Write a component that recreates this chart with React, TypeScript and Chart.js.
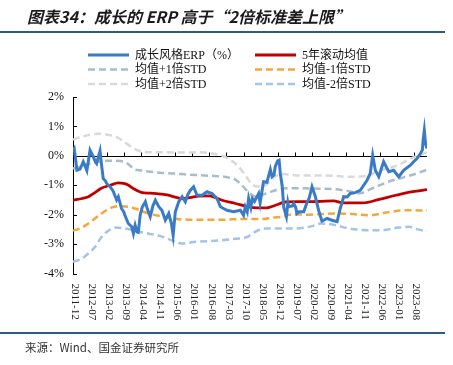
import React, { useEffect, useRef } from 'react';
import { Chart, registerables } from 'chart.js';

Chart.register(...registerables);

// ---------- data ----------
const titleText = '图表34：成长的 ERP 高于“2倍标准差上限”';
const sourceText = '来源：Wind、国金证券研究所';

const xTickLabels = ['2011-12', '2012-07', '2013-02', '2013-09', '2014-04', '2014-11', '2015-06', '2016-01', '2016-08', '2017-03', '2017-10', '2018-05', '2018-12', '2019-07', '2020-02', '2020-09', '2021-04', '2021-11', '2022-06', '2023-01', '2023-08'];
const monthsPerTick = 7;
const yMin = -4;
const yMax = 2;
const xMaxMonth = 145.3;

const seriesNames = ['成长风格ERP（%）', '5年滚动均值', '均值+1倍STD', '均值-1倍STD', '均值+2倍STD', '均值-2倍STD'];

// months since 2011-12
const erpMonths = [0, 0.5, 1.1, 1.6, 2.9, 3.7, 4.2, 5.0, 5.7, 7.0, 8.3, 9.2, 9.7, 11.1, 11.7, 12.4, 13.3, 13.8, 15.2, 16.5, 17.9, 18.6, 19.9, 20.8, 21.3, 22.7, 24.1, 24.8, 25.5, 26.3, 26.8, 27.6, 28.4, 29.7, 30.5, 31.7, 32.8, 33.8, 35.2, 36.5, 37.9, 39.3, 40.4, 41.1, 42.0, 43.4, 44.8, 46.1, 47.2, 48.2, 49.5, 50.9, 53.0, 55.0, 57.1, 59.1, 60.5, 62.0, 63.2, 65.9, 68.7, 70.0, 70.7, 71.5, 72.1, 73.0, 73.6, 74.5, 76.2, 76.8, 78.2, 79.6, 81.0, 81.7, 82.5, 83.0, 84.0, 84.6, 85.1, 85.9, 86.5, 87.6, 88.2, 88.5, 90.0, 90.6, 91.4, 91.9, 92.8, 94.7, 96.0, 96.9, 98.1, 99.5, 100.8, 102.2, 104.3, 106.3, 108.4, 109.7, 111.1, 112.5, 113.8, 115.8, 117.9, 120.7, 122.0, 123.0, 124.1, 125.5, 127.5, 129.6, 131.6, 133.7, 135.7, 138.5, 139.8, 141.2, 142.6, 143.4, 143.7, 144.2, 144.7, 145.3];
const erpValues = [0.19, 0.25, -0.15, -0.49, -0.45, -0.3, -0.2, -0.35, -0.5, 0.19, -0.03, -0.2, -0.26, 0.17, -0.3, -0.77, -0.85, -0.94, -1.05, -1.2, -1.5, -1.39, -1.79, -1.9, -2.02, -2.3, -2.41, -2.64, -2.36, -2.59, -2.6, -2.0, -1.75, -1.56, -1.8, -2.07, -1.7, -1.51, -1.73, -1.85, -2.19, -1.96, -2.3, -2.7, -1.9, -1.56, -1.39, -1.56, -1.3, -1.17, -1.05, -1.34, -1.34, -1.22, -1.28, -1.45, -1.73, -1.8, -1.85, -1.9, -1.85, -2.02, -1.73, -1.9, -1.45, -1.75, -1.45, -1.55, -1.28, -1.6, -0.88, -0.9, -0.46, -0.71, -0.65, -0.37, -0.17, -0.15, -0.6, -1.05, -1.75, -2.07, -1.6, -1.73, -1.7, -1.62, -1.75, -1.96, -1.9, -1.9, -1.6, -1.45, -1.05, -1.39, -1.85, -2.22, -2.13, -2.19, -2.24, -1.79, -1.39, -1.4, -1.28, -1.25, -1.17, -0.83, -0.6, 0.02, -0.49, -0.71, -0.2, -0.54, -0.49, -0.71, -0.49, -0.32, -0.2, -0.09, 0.08, 0.2, 0.53, 0.87, 0.42, 0.25];

const ma5Months = [0, 3.8, 6.3, 9, 11.6, 15.3, 18.6, 20.8, 22.8, 24.9, 28, 31.7, 35, 38.6, 42.7, 44.7, 48, 51.6, 55.7, 58.5, 61.2, 66.7, 71.5, 75.4, 79.6, 83.1, 87.2, 92, 96.9, 101.5, 106.9, 110.9, 119, 125.7, 132.6, 139.4, 145.3];
const ma5Values = [-1.51, -1.45, -1.39, -1.25, -1.1, -1.0, -0.92, -0.94, -1.0, -1.12, -1.24, -1.27, -1.29, -1.33, -1.42, -1.45, -1.42, -1.37, -1.36, -1.42, -1.51, -1.62, -1.72, -1.77, -1.77, -1.68, -1.57, -1.56, -1.56, -1.55, -1.53, -1.6, -1.6, -1.48, -1.34, -1.22, -1.15];

const plus1Months = [0, 3.5, 7.1, 10.5, 13.8, 17.5, 20.8, 23, 24.9, 28, 31.7, 36.5, 41.5, 47, 52.3, 57, 60.9, 64, 66.5, 68.7, 70.7, 73.6, 75.5, 78.5, 82, 85.9, 91.5, 96.9, 102, 106.9, 113.1, 117.7, 123, 128.8, 132.5, 136.6, 141, 145.3];
const plus1Values = [-0.43, -0.35, -0.26, -0.2, -0.17, -0.17, -0.2, -0.3, -0.45, -0.5, -0.54, -0.58, -0.6, -0.64, -0.66, -0.68, -0.7, -0.74, -0.8, -0.95, -1.12, -1.34, -1.4, -1.3, -1.2, -1.11, -1.1, -1.11, -1.12, -1.13, -1.2, -1.27, -1.1, -0.9, -0.8, -0.71, -0.6, -0.47];

const minus1Months = [0, 3.3, 6.3, 9, 11.7, 15.8, 19.9, 25.4, 30.9, 35.8, 40.7, 47.5, 55, 61.2, 69.7, 77.8, 82, 85.9, 90, 96.9, 106.9, 113.2, 121.6, 128.5, 136.7, 145.3];
const minus1Values = [-2.55, -2.45, -2.3, -2.13, -1.96, -1.76, -1.71, -1.79, -1.96, -2.05, -2.13, -2.17, -2.17, -2.17, -2.15, -2.15, -2.1, -2.07, -1.99, -2.0, -1.96, -1.97, -2.02, -1.93, -1.85, -1.86];

const plus2Months = [0, 3.5, 7.1, 11.2, 15.3, 18.1, 21.5, 24.9, 28.9, 33, 38.6, 45, 52.3, 58.4, 61.5, 63.9, 66, 68, 70.7, 72.8, 75.2, 77.7, 80.2, 83, 85.9, 93.3, 100, 106.9, 112.5, 117.9, 121.5, 124.8, 130.3, 134.4, 137, 139.8, 145.3];
const plus2Values = [0.55, 0.65, 0.72, 0.75, 0.7, 0.63, 0.45, 0.25, 0.14, 0.12, 0.12, 0.11, 0.12, 0.06, 0.0, -0.1, -0.22, -0.37, -0.66, -0.9, -1.04, -1.04, -0.92, -0.7, -0.62, -0.67, -0.67, -0.68, -0.71, -0.7, -0.66, -0.54, -0.4, -0.28, -0.15, -0.05, 0.12];

const minus2Months = [0, 3, 6.3, 9, 11.7, 14.5, 17.2, 21.3, 27.6, 35.8, 41.2, 44.7, 49.5, 61.2, 66.7, 71.5, 74, 76.2, 79, 83.3, 91.5, 98.2, 101.7, 106.9, 113.2, 119, 125.5, 133.7, 137.9, 141.5, 145.3];
const minus2Values = [-3.6, -3.52, -3.32, -3.1, -2.76, -2.55, -2.44, -2.47, -2.59, -2.73, -2.89, -2.98, -2.93, -2.87, -2.82, -2.76, -2.62, -2.52, -2.47, -2.47, -2.47, -2.39, -2.3, -2.34, -2.47, -2.52, -2.53, -2.44, -2.41, -2.5, -2.56];

// ---------- styles ----------
const colors = ['#3a7bc8', '#c00000', '#a9bccb', '#f5a83a', '#d9d9d9', '#a3c4e8'];
const dashPattern = [7, 4];

const pts = (xs: number[], ys: number[]) => xs.map((x, i) => ({ x, y: ys[i] }));

const serif = '"Liberation Serif", "Noto Sans CJK SC", serif';

const decorPlugin = {
  id: 'decor',
  beforeDatasetsDraw(chart: any) {
    const { ctx, chartArea, scales } = chart;
    const x = scales.x;
    const y = scales.y;
    const y0 = Math.round(y.getPixelForValue(0)) + 0.5;
    ctx.save();
    ctx.strokeStyle = '#000';
    ctx.lineWidth = 1;
    ctx.beginPath();
    ctx.moveTo(chartArea.left, y0);
    ctx.lineTo(chartArea.right, y0);
    xTickLabels.forEach((_, i) => {
      const px = Math.round(x.getPixelForValue(i * monthsPerTick)) + 0.5;
      ctx.moveTo(px, y0);
      ctx.lineTo(px, y0 - 4);
    });
    for (let v = yMin; v <= yMax; v++) {
      const py = Math.round(y.getPixelForValue(v)) + 0.5;
      ctx.moveTo(chartArea.left, py);
      ctx.lineTo(chartArea.left + 4, py);
    }
    ctx.stroke();
    ctx.restore();
  },
  afterDraw(chart: any) {
    const { ctx, chartArea, scales } = chart;
    const x = scales.x;
    ctx.save();
    // x labels, rotated clockwise
    ctx.font = '11px ' + serif;
    ctx.fillStyle = '#222';
    ctx.textAlign = 'left';
    ctx.textBaseline = 'middle';
    xTickLabels.forEach((lab, i) => {
      const px = x.getPixelForValue(i * monthsPerTick);
      ctx.save();
      ctx.translate(px + 2, chartArea.bottom + 10);
      ctx.rotate(Math.PI / 2);
      ctx.fillText(lab, 0, 0);
      ctx.restore();
    });
    // legend
    const colX = [88, 255];
    const rowY = [55, 69.5, 84];
    const lineLen = 41;
    ctx.font = '12px ' + serif;
    ctx.fillStyle = '#111';
    chart.data.datasets.forEach((ds: any, i: number) => {
      const cx = colX[i % 2];
      const cy = rowY[Math.floor(i / 2)];
      ctx.save();
      ctx.strokeStyle = ds.borderColor;
      ctx.lineWidth = ds.borderWidth;
      ctx.setLineDash(ds.borderDash || []);
      ctx.beginPath();
      ctx.moveTo(cx, cy);
      ctx.lineTo(cx + lineLen, cy);
      ctx.stroke();
      ctx.restore();
      ctx.fillText(ds.label, cx + lineLen + 6, cy + 0.5);
    });
    ctx.restore();
  },
};

export default function App() {
  const ref = useRef<HTMLCanvasElement>(null);

  useEffect(() => {
    if (!ref.current) return;
    const mk = (i: number, xs: number[], ys: number[], dashed: boolean, width: number, smooth: boolean) => ({
      label: seriesNames[i],
      data: pts(xs, ys),
      borderColor: colors[i],
      backgroundColor: colors[i],
      borderWidth: width,
      borderDash: dashed ? dashPattern : [],
      pointRadius: 0,
      fill: false,
      cubicInterpolationMode: smooth ? 'monotone' : 'default',
      tension: 0,
    });
    const chart = new Chart(ref.current, {
      type: 'line',
      data: {
        datasets: [
          mk(0, erpMonths, erpValues, false, 3, false),
          mk(1, ma5Months, ma5Values, false, 2.8, true),
          mk(2, plus1Months, plus1Values, true, 2.5, true),
          mk(3, minus1Months, minus1Values, true, 2.5, true),
          mk(4, plus2Months, plus2Values, true, 2.5, true),
          mk(5, minus2Months, minus2Values, true, 2.5, true),
        ] as any,
      },
      options: {
        animation: false,
        responsive: false,
        devicePixelRatio: 1,
        layout: { padding: { left: 0, top: 97, right: 26, bottom: 91.5 } },
        plugins: { legend: { display: false }, tooltip: { enabled: false } },
        scales: {
          x: {
            type: 'linear',
            display: false,
            min: 0,
            max: xMaxMonth,
          },
          y: {
            min: yMin,
            max: yMax,
            grid: { display: false, drawTicks: false },
            border: { display: true, color: '#000', width: 1 },
            ticks: {
              stepSize: 1,
              padding: 9,
              color: '#111',
              font: { family: serif, size: 12 },
              callback: (v: any) => v + '%',
            },
            afterFit: (s: any) => {
              s.width = 73;
            },
          },
        },
      } as any,
      plugins: [decorPlugin],
    });
    return () => chart.destroy();
  }, []);

  return (
    <div style={{ position: 'absolute', left: 0, top: 0, width: 453, height: 365, background: '#fff', overflow: 'hidden' }}>
      <canvas ref={ref} width={453} height={365} style={{ position: 'absolute', left: 0, top: 0, width: 453, height: 365 }} />
      <div
        style={{
          position: 'absolute',
          left: 27,
          top: 6,
          fontFamily: '"Noto Sans CJK SC", sans-serif',
          fontWeight: 'bold',
          fontStyle: 'italic',
          fontSize: 16,
          lineHeight: '20px',
          color: '#1a1a1a',
          whiteSpace: 'nowrap',
        }}
      >
        {titleText}
      </div>
      <div style={{ position: 'absolute', left: 0, top: 31, width: 445, height: 2, background: '#2e5b84' }} />
      <div style={{ position: 'absolute', left: 0, top: 332, width: 445, height: 2, background: '#2e5b84' }} />
      <div
        style={{
          position: 'absolute',
          left: 25,
          top: 339,
          fontFamily: '"Noto Sans CJK SC", sans-serif',
          fontSize: 11.5,
          lineHeight: '16px',
          color: '#333',
          whiteSpace: 'nowrap',
        }}
      >
        {sourceText}
      </div>
    </div>
  );
}
